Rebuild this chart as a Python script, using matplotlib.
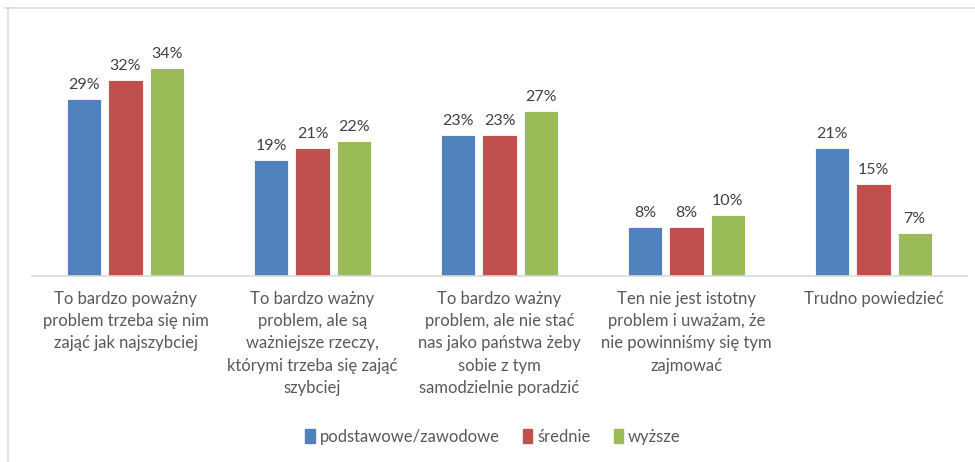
import matplotlib.pyplot as plt
import numpy as np
from matplotlib.lines import Line2D
from matplotlib.patches import Rectangle

plt.rcParams['font.family'] = ['Lato', 'DejaVu Sans']

kategorie = [
    'To bardzo poważny\nproblem trzeba się nim\nzająć jak najszybciej',
    'To bardzo ważny\nproblem, ale są\nważniejsze rzeczy,\nktórymi trzeba się zająć\nszybciej',
    'To bardzo ważny\nproblem, ale nie stać\nnas jako państwa żeby\nsobie z tym\nsamodzielnie poradzić',
    'Ten nie jest istotny\nproblem i uważam, że\nnie powinniśmy się tym\nzajmować',
    'Trudno powiedzieć',
]
serie = ['podstawowe/zawodowe', 'średnie', 'wyższe']
podstawowe = [29, 19, 23, 8, 21]
srednie = [32, 21, 23, 8, 15]
wyzsze = [34, 22, 27, 10, 7]
kolory = ['#4F81BD', '#C0504D', '#9BBB59']

fig = plt.figure(figsize=(9.75, 4.62), dpi=100)
ax = fig.add_axes([32 / 975, 186 / 462, 935 / 975, 241 / 462])

x = np.arange(len(kategorie))
szer = 0.182
krok = 0.22
for k, (nazwa, wart) in enumerate(zip(serie, [podstawowe, srednie, wyzsze])):
    pos = x + (k - 1) * krok
    ax.bar(pos, wart, szer, color=kolory[k], label=nazwa,
           edgecolor='white', linewidth=0.6)
    for xb, v in zip(pos, wart):
        ax.annotate(f'{v}%', (xb, v), xytext=(0, 5), textcoords='offset points',
                    ha='center', va='bottom', fontsize=11.5, color='#404040')

ax.set_xlim(-0.5, 4.5)
ax.set_ylim(0, 39.4)
ax.set_yticks([])
ax.set_xticks(x)
ax.set_xticklabels(kategorie, fontsize=12, color='#595959', linespacing=1.47, va='top')
ax.tick_params(axis='x', length=0, pad=11)
for s in ['top', 'right', 'left']:
    ax.spines[s].set_visible(False)
ax.spines['bottom'].set_color('#D9D9D9')
ax.spines['bottom'].set_linewidth(1.2)

# ramka wykresu (tylko góra i lewa strona widoczne)
fig.add_artist(Line2D([5 / 975, 1], [1 - 8 / 462, 1 - 8 / 462], color='#D9D9D9', lw=1.2))
fig.add_artist(Line2D([8 / 975, 8 / 975], [0, 1 - 8 / 462], color='#D9D9D9', lw=1.2))

uchwyty = [Rectangle((0, 0), 1, 1, color=c) for c in kolory]
leg = fig.legend(uchwyty, serie, loc='center', bbox_to_anchor=(493 / 975, 1 - 437 / 462),
                 ncol=3, frameon=False, fontsize=12, handlelength=0.55, handleheight=0.9,
                 handletextpad=0.3, columnspacing=1.4)
for t in leg.get_texts():
    t.set_color('#595959')

fig.savefig('out.png', dpi=100, facecolor='white')
